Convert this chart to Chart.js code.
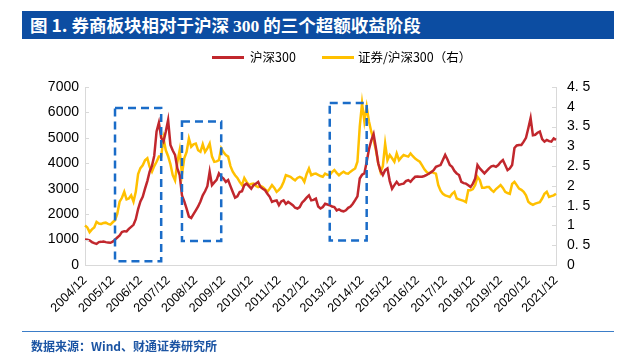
<!DOCTYPE html>
<html>
<head>
<meta charset="utf-8">
<script src="https://cdn.jsdelivr.net/npm/chart.js@4.4.0/dist/chart.umd.min.js"></script>
<style>
  html,body{margin:0;padding:0;background:#fff;}
  #wrap{position:relative;width:622px;height:354px;overflow:hidden;font-family:"Noto Sans CJK SC","Liberation Sans",sans-serif;}
  #bar{position:absolute;left:22px;top:11px;width:592px;height:28px;background:#0c4da2;}
  #title{position:absolute;left:30px;top:11px;height:28px;line-height:28px;color:#fff;font-weight:bold;font-size:17.5px;white-space:nowrap;}
  #legend{position:absolute;top:48px;left:0;width:622px;height:18px;font-size:12.5px;color:#000;}
  .li{position:absolute;top:0;height:18px;line-height:18px;white-space:nowrap;}
  .sw{position:absolute;top:8px;width:32px;height:3px;}
  #foot{position:absolute;left:22px;top:331px;width:592px;height:1px;background:#3b7dc8;}
  #src{position:absolute;left:31px;top:337px;font-size:12px;font-weight:bold;color:#1b54a3;white-space:nowrap;}
  canvas{position:absolute;left:0;top:0;}
</style>
</head>
<body>
<div id="wrap">
  <canvas id="c" width="622" height="354"></canvas>
  <div id="bar"></div>
  <div id="title">图 1. 券商板块相对于沪深 <span style="font-family:'Liberation Serif',serif;">300</span> 的三个超额收益阶段</div>
  <div id="legend">
    <div class="sw" style="left:212px;background:#c1272d;"></div>
    <div class="li" style="left:250px;">沪深300</div>
    <div class="sw" style="left:322px;background:#ffc000;"></div>
    <div class="li" style="left:358px;">证券/沪深300（右）</div>
  </div>
  <div id="foot"></div>
  <div id="src">数据来源：Wind、财通证券研究所</div>
</div>
<script>
// tick labels shown on the x axis
const tickLabels = ["2004/12","2005/12","2006/12","2007/12","2008/12","2009/12","2010/12","2011/12","2012/12","2013/12","2014/12","2015/12","2016/12","2017/12","2018/12","2019/12","2020/12","2021/12"];

// monthly categories from 2004/12 to 2021/12
const categories = [];
for (let y = 2004, m = 12; y < 2021 || (y === 2021 && m <= 12); ) {
  categories.push(y + "/" + String(m).padStart(2, "0"));
  m++; if (m > 12) { m = 1; y++; }
}

// 沪深300 (left axis)
const csi300 = [
  1000,990,970,900,860,830,900,910,925,900,
  880,875,920,1000,1080,1160,1300,1330,1320,1420,
  1500,1580,1800,2200,2500,2680,3000,3300,3670,3900,
  4300,5250,5600,5000,4850,5250,5700,4720,4500,4330,
  3800,3540,2740,2500,2220,1900,1850,2000,2150,2300,
  2500,2740,2900,3100,3670,3140,3250,3350,3600,3470,
  3400,3270,3340,3100,2870,2650,2700,2870,2900,3140,
  3200,3100,3000,3140,3200,3270,3070,3000,2940,2800,
  2680,2480,2520,2540,2350,2500,2540,2400,2480,2420,
  2350,2250,2220,2280,2450,2540,2650,2740,2540,2560,
  2610,2300,2220,2280,2410,2380,2350,2300,2280,2150,
  2190,2130,2110,2150,2250,2300,2410,2550,2700,3400,
  3550,3600,4060,4550,4900,5150,4600,4000,3700,3540,
  3730,3800,3300,3000,3140,3270,3150,3180,3200,3300,
  3340,3270,3380,3470,3480,3470,3470,3500,3540,3600,
  3650,3730,3860,3900,3930,4130,4330,4150,3930,3860,
  3700,3600,3540,3270,3220,3200,3140,3070,3200,3400,
  3930,3800,3700,3600,3700,3800,3880,3900,3860,3930,
  4050,4130,3930,3730,3800,3930,4600,4700,4720,4720,
  4850,5000,5380,5780,5100,5120,5200,5250,4950,4850,
  4920,4870,4850,4980,4920
];

// 证券/沪深300 (right axis)
const ratio = [
  1.00,0.95,0.83,0.90,0.95,1.09,1.05,1.04,1.06,1.07,
  1.04,1.02,1.08,1.13,1.30,1.60,1.70,1.85,1.66,1.68,
  1.76,1.60,1.85,2.30,2.45,2.52,2.65,2.70,2.48,2.36,
  2.50,2.61,2.74,2.74,3.20,2.90,2.75,2.55,2.27,2.14,
  2.60,2.90,2.30,2.70,2.86,3.20,2.99,3.05,3.07,2.90,
  2.86,3.05,2.86,2.95,3.07,2.74,2.61,2.62,2.65,2.95,
  2.85,2.78,2.74,2.50,2.36,2.27,2.20,2.10,2.02,2.20,
  2.10,2.02,2.05,2.06,2.00,1.97,2.00,1.97,1.92,1.85,
  1.93,2.02,1.95,1.85,1.90,1.97,2.10,2.27,2.25,2.23,
  2.18,2.14,2.20,2.23,2.20,2.10,2.30,2.44,2.27,2.30,
  2.31,2.28,2.25,2.23,2.31,2.28,2.27,2.35,2.40,2.33,
  2.27,2.32,2.36,2.32,2.31,2.36,2.40,2.44,2.61,3.50,
  4.09,3.63,4.00,3.63,3.37,3.16,2.90,2.57,2.35,2.50,
  3.07,2.65,2.78,2.70,2.61,2.82,2.65,2.72,2.78,2.76,
  2.74,2.82,2.75,2.69,2.65,2.61,2.52,2.42,2.35,2.31,
  2.36,2.33,2.31,2.02,1.88,1.80,1.76,1.74,1.72,1.80,
  1.85,1.68,1.66,1.64,1.62,1.59,1.89,1.89,1.92,2.02,
  2.23,2.15,1.95,1.95,1.97,1.97,1.90,1.85,1.92,1.97,
  2.02,1.95,1.85,1.82,1.80,2.05,2.10,2.02,1.93,1.90,
  1.85,1.76,1.60,1.55,1.52,1.55,1.57,1.59,1.68,1.80,
  1.85,1.72,1.74,1.76,1.80
];

// highlighted phases: start month, end month, low / high on left axis
const boxStart = ["2006/01", "2008/06", "2013/10"];
const boxEnd   = ["2007/09", "2009/11", "2015/02"];
const boxLow   = [150, 940, 965];
const boxHigh  = [6170, 5640, 6370];

const innerTicks = {
  id: 'innerTicks',
  afterDraw(chart) {
    const ctx = chart.ctx;
    ctx.save();
    ctx.strokeStyle = '#d9d9d9';
    ctx.lineWidth = 1;
    const yl = chart.scales.y, yr = chart.scales.y1;
    yl.ticks.forEach(t => {
      const p = Math.round(yl.getPixelForValue(t.value)) + 0.5;
      ctx.beginPath(); ctx.moveTo(yl.right, p); ctx.lineTo(yl.right + 4, p); ctx.stroke();
    });
    yr.ticks.forEach(t => {
      const p = Math.round(yr.getPixelForValue(t.value)) + 0.5;
      ctx.beginPath(); ctx.moveTo(yr.left - 4, p); ctx.lineTo(yr.left, p); ctx.stroke();
    });
    ctx.restore();
  }
};

const boxes = {
  id: 'boxes',
  afterDatasetsDraw(chart) {
    const ctx = chart.ctx, xs = chart.scales.x, ys = chart.scales.y;
    ctx.save();
    ctx.strokeStyle = '#1a6cc8';
    ctx.lineWidth = 2.5;
    ctx.setLineDash([8, 5]);
    for (let k = 0; k < boxStart.length; k++) {
      const x0 = xs.getPixelForValue(categories.indexOf(boxStart[k]));
      const x1 = xs.getPixelForValue(categories.indexOf(boxEnd[k]));
      const y0 = ys.getPixelForValue(boxHigh[k]);
      const y1 = ys.getPixelForValue(boxLow[k]);
      ctx.strokeRect(x0, y0, x1 - x0, y1 - y0);
    }
    ctx.restore();
  }
};

new Chart(document.getElementById('c'), {
  type: 'line',
  data: {
    labels: categories,
    datasets: [
      { label: '沪深300', data: csi300, yAxisID: 'y', borderColor: '#c1272d', borderWidth: 2.5, pointRadius: 0, tension: 0 },
      { label: '证券/沪深300（右）', data: ratio, yAxisID: 'y1', borderColor: '#ffc000', borderWidth: 2.5, pointRadius: 0, tension: 0 }
    ]
  },
  options: {
    responsive: false,
    animation: false,
    devicePixelRatio: 1,
    layout: { padding: { top: 87, left: 0, right: 0, bottom: 0 } },
    plugins: { legend: { display: false }, tooltip: { enabled: false } },
    scales: {
      x: {
        offset: false,
        grid: { display: false, drawTicks: false },
        border: { color: '#d9d9d9', width: 1 },
        afterFit(s) { s.height = 89; },
        ticks: {
          autoSkip: false, minRotation: 45, maxRotation: 45, padding: 8,
          color: '#000', font: { family: 'Liberation Sans, Arial, sans-serif', size: 12.5 },
          callback(v) { const l = categories[v]; return tickLabels.includes(l) ? l : null; }
        }
      },
      y: {
        position: 'left', min: 0, max: 7000,
        grid: { display: false, drawTicks: false },
        border: { color: '#d9d9d9', width: 1 },
        afterFit(s) { s.width = 85; },
        ticks: { autoSkip: false, stepSize: 1000, padding: 6, color: '#000', font: { family: 'Liberation Sans, Arial, sans-serif', size: 14 },
          callback(v) { return String(v); } }
      },
      y1: {
        position: 'right', min: 0, max: 4.5,
        grid: { display: false, drawTicks: false },
        border: { color: '#d9d9d9', width: 1 },
        afterFit(s) { s.width = 66; },
        ticks: {
          autoSkip: false, stepSize: 0.5, padding: 11, color: '#000', font: { family: 'Liberation Sans, Arial, sans-serif', size: 14 },
          callback(v) { return String(+v.toFixed(1)).replace('.', '. '); }
        }
      }
    }
  },
  plugins: [innerTicks, boxes]
});
</script>
</body>
</html>
